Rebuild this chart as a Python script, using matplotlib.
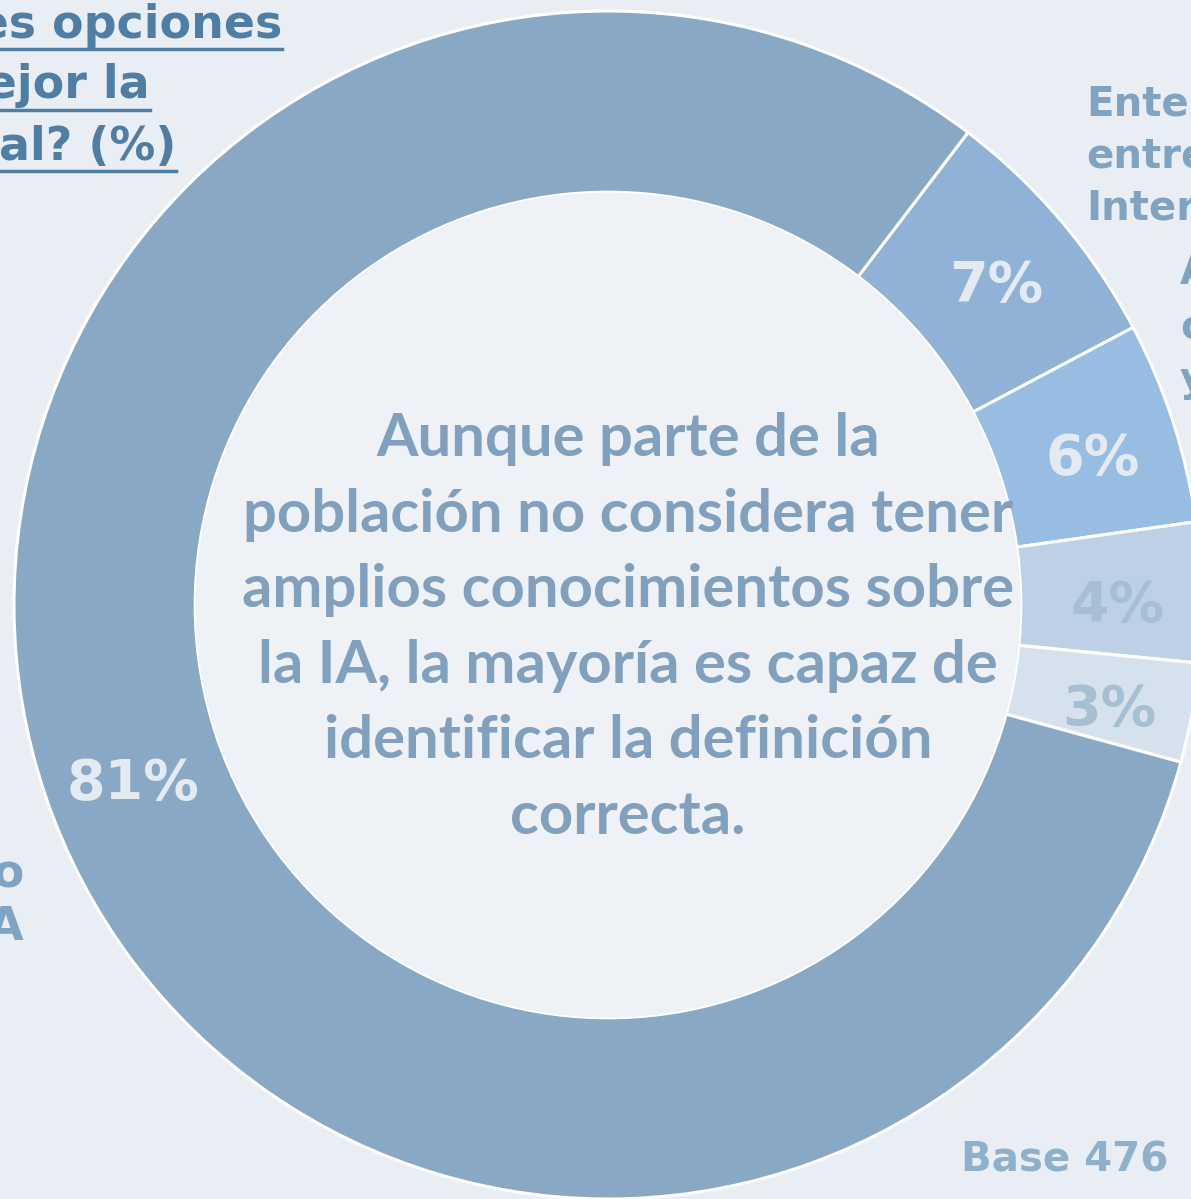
import matplotlib.pyplot as plt
import numpy as np

categorias = ["Entender y entretener / Internet", "Automatizar ... y", "Otra 1", "Otra 2", "Definición correcta de IA"]
valores = [6.9, 5.5, 3.8, 2.7, 81.1]
etiquetas = ["7%", "6%", "4%", "3%", "81%"]
colores = ["#8fb2d6", "#97bde3", "#bdd0e6", "#d6e1ee", "#89a8c6"]
colores_texto = ["#e3eaf2", "#e3eaf2", "#a6bfd2", "#a6bfd2", "#e3eaf2"]

texto_central = ("Aunque parte de la\npoblación no considera tener\namplios conocimientos sobre\n"
                 "la IA, la mayoría es capaz de\nidentificar la definición\ncorrecta.")

W, H = 1191, 1199
fig = plt.figure(figsize=(W / 100, H / 100), dpi=100)
fig.patch.set_facecolor("#e8eef4")
ax = fig.add_axes([0, 0, 1, 1])

cx, cy, R = 608, 605, 594
ancho = 0.305
inicio = -52.7

# El eje y está invertido, así que el sentido horario en pantalla es counterclock=True
wedges, _ = ax.pie(valores, colors=colores, startangle=inicio, counterclock=True,
                   radius=R, center=(cx, cy), frame=True,
                   wedgeprops=dict(width=R * ancho, edgecolor="white", linewidth=2.2))
ax.set_xlim(0, W)
ax.set_ylim(H, 0)
ax.set_aspect("equal")
ax.axis("off")

# Círculo interior más claro
ax.add_patch(plt.Circle((cx, cy), R * (1 - ancho) - 1, color="#eef2f7", zorder=1))

# Etiquetas de porcentaje
total = sum(valores)
ang = inicio
r_lab = R * (1 - ancho / 2) + 8
for v, lab, ct in zip(valores, etiquetas, colores_texto):
    a = ang + 360 * v / total / 2
    ang += 360 * v / total
    if lab == "81%":
        x, y = 133, 784
    else:
        x = cx + r_lab * np.cos(np.radians(a)) - 2
        y = cy + r_lab * np.sin(np.radians(a)) + 12
    ax.text(x, y, lab, color=ct, fontsize=40, fontweight="black",
            family="DejaVu Sans", ha="center", va="center", zorder=5)

# Texto central
ax.text(628, 628, texto_central, color="#80a0bd", fontsize=43, fontweight="bold",
        family="Lato", ha="center", va="center", linespacing=1.49, zorder=5)

# Título (recortado)
color_tit = "#4f7da3"
for txt, xr, y in [("ntes opciones", 282, 25), ("mejor la", 150, 86), ("cial? (%)", 176, 147)]:
    ax.text(xr, y, txt, color=color_tit, fontsize=33, fontweight="black",
            family="DejaVu Sans", ha="right", va="center", zorder=5)
    ax.plot([0, xr], [y + 24, y + 24], color=color_tit, lw=2.5, zorder=5)

# Etiquetas laterales recortadas
color_lat = "#7fa3c1"
for txt, y in [("Entender", 105), ("entretener", 157), ("Internet", 208)]:
    ax.text(1086, y, txt, color=color_lat, fontsize=29, fontweight="black",
            family="DejaVu Sans", ha="left", va="center", zorder=5)
for txt, y in [("Au", 272), ("co", 328), ("y", 380)]:
    ax.text(1180, y, txt, color=color_lat, fontsize=29, fontweight="black",
            family="DejaVu Sans", ha="left", va="center", zorder=5)
for txt, y in [("no", 875), ("IA", 928)]:
    ax.text(24, y, txt, color=color_lat, fontsize=33, fontweight="black",
            family="DejaVu Sans", ha="right", va="center", zorder=5)

ax.text(1168, 1160, "Base 476", color="#8fb0ca", fontsize=29, fontweight="black",
        family="DejaVu Sans", ha="right", va="center", zorder=5)

fig.savefig("out.png", dpi=100, facecolor=fig.get_facecolor())
